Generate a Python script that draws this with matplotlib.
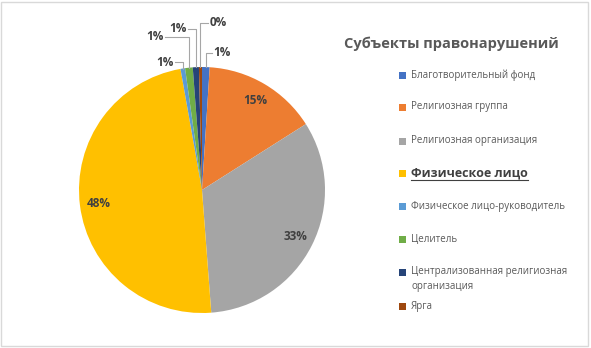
import numpy as np
import matplotlib
matplotlib.use("Agg")
import matplotlib.pyplot as plt
from matplotlib.patches import Rectangle

plt.rcParams['font.family'] = ['Open Sans', 'DejaVu Sans']

# данные диаграммы
categories = ["Благотворительный фонд", "Религиозная группа", "Религиозная организация",
              "Физическое лицо", "Физическое лицо-руководитель", "Целитель",
              "Централизованная религиозная\nорганизация", "Ярга"]
values = [1.0, 15.0, 32.8, 48.4, 0.6, 1.0, 0.8, 0.4]
colors = ["#4472C4", "#ED7D31", "#A5A5A5", "#FFC000", "#5B9BD5", "#70AD47", "#264478", "#9E480E"]

W, H = 591, 348
fig = plt.figure(figsize=(W / 100, H / 100), dpi=100)
ax = fig.add_axes([0, 0, 1, 1])

cx, cy, r = 202, H - 190, 123
wedges, _ = ax.pie(values, colors=colors, startangle=90, counterclock=False,
                   center=(cx, cy), radius=r, frame=True,
                   wedgeprops=dict(linewidth=0))
ax.set_xlim(0, W)
ax.set_ylim(0, H)
ax.set_aspect('auto')
ax.axis('off')

total = sum(values)
pcts = [round(v / total * 100) for v in values]

# положения подписей мелких секторов (пиксели от верхнего левого угла)
small_pos = {0: (222, 53), 4: (165, 62), 5: (155, 37), 6: (178, 29), 7: (218, 23)}
lab_kw = dict(fontsize=8.5, fontweight='bold', color='#404040', ha='center', va='center')

for i, w in enumerate(wedges):
    mid = np.deg2rad((w.theta1 + w.theta2) / 2)
    if i in small_pos:
        lx, ly = small_pos[i]
        ly = H - ly
        axx, ayy = cx + r * np.cos(mid), cy + r * np.sin(mid)
        ax.text(lx, ly, f"{pcts[i]}%", **lab_kw)
        sx = lx + 10 if lx < axx else lx - 10
        ax.plot([sx, axx, axx], [ly, ly, ayy], color='#A6A6A6', lw=0.8)
    else:
        ax.text(cx + 0.85 * r * np.cos(mid), cy + 0.85 * r * np.sin(mid),
                f"{pcts[i]}%", **lab_kw)

# заголовок
ax.text(451, H - 44, "Субъекты правонарушений", fontsize=10.5, fontweight='bold',
        color='#595959', ha='center', va='center')

# легенда
leg_y = [75, 107, 141, 173, 206, 239, 279, 306]
for i, name in enumerate(categories):
    y = H - leg_y[i]
    if i == 6:
        ax.add_patch(Rectangle((399, H - 272 - 3.5), 7, 7, color=colors[i], lw=0))
    else:
        ax.add_patch(Rectangle((399, y - 3.5), 7, 7, color=colors[i], lw=0))
    if i == 3:
        t = ax.text(411, y, name, fontsize=9, fontweight='bold', color='#404040',
                    ha='left', va='center')
        fig.canvas.draw()
        bb = t.get_window_extent()
        ax.plot([bb.x0, bb.x1], [bb.y0 - 0.5, bb.y0 - 0.5], color='#404040', lw=0.8)
    else:
        ax.text(411, y, name, fontsize=7, color='#595959', ha='left', va='center',
                linespacing=1.6)

# рамка
ax.add_patch(Rectangle((1, 2), W - 4, H - 4, fill=False, edgecolor='#D9D9D9', lw=1))

fig.savefig("out.png", dpi=100)
